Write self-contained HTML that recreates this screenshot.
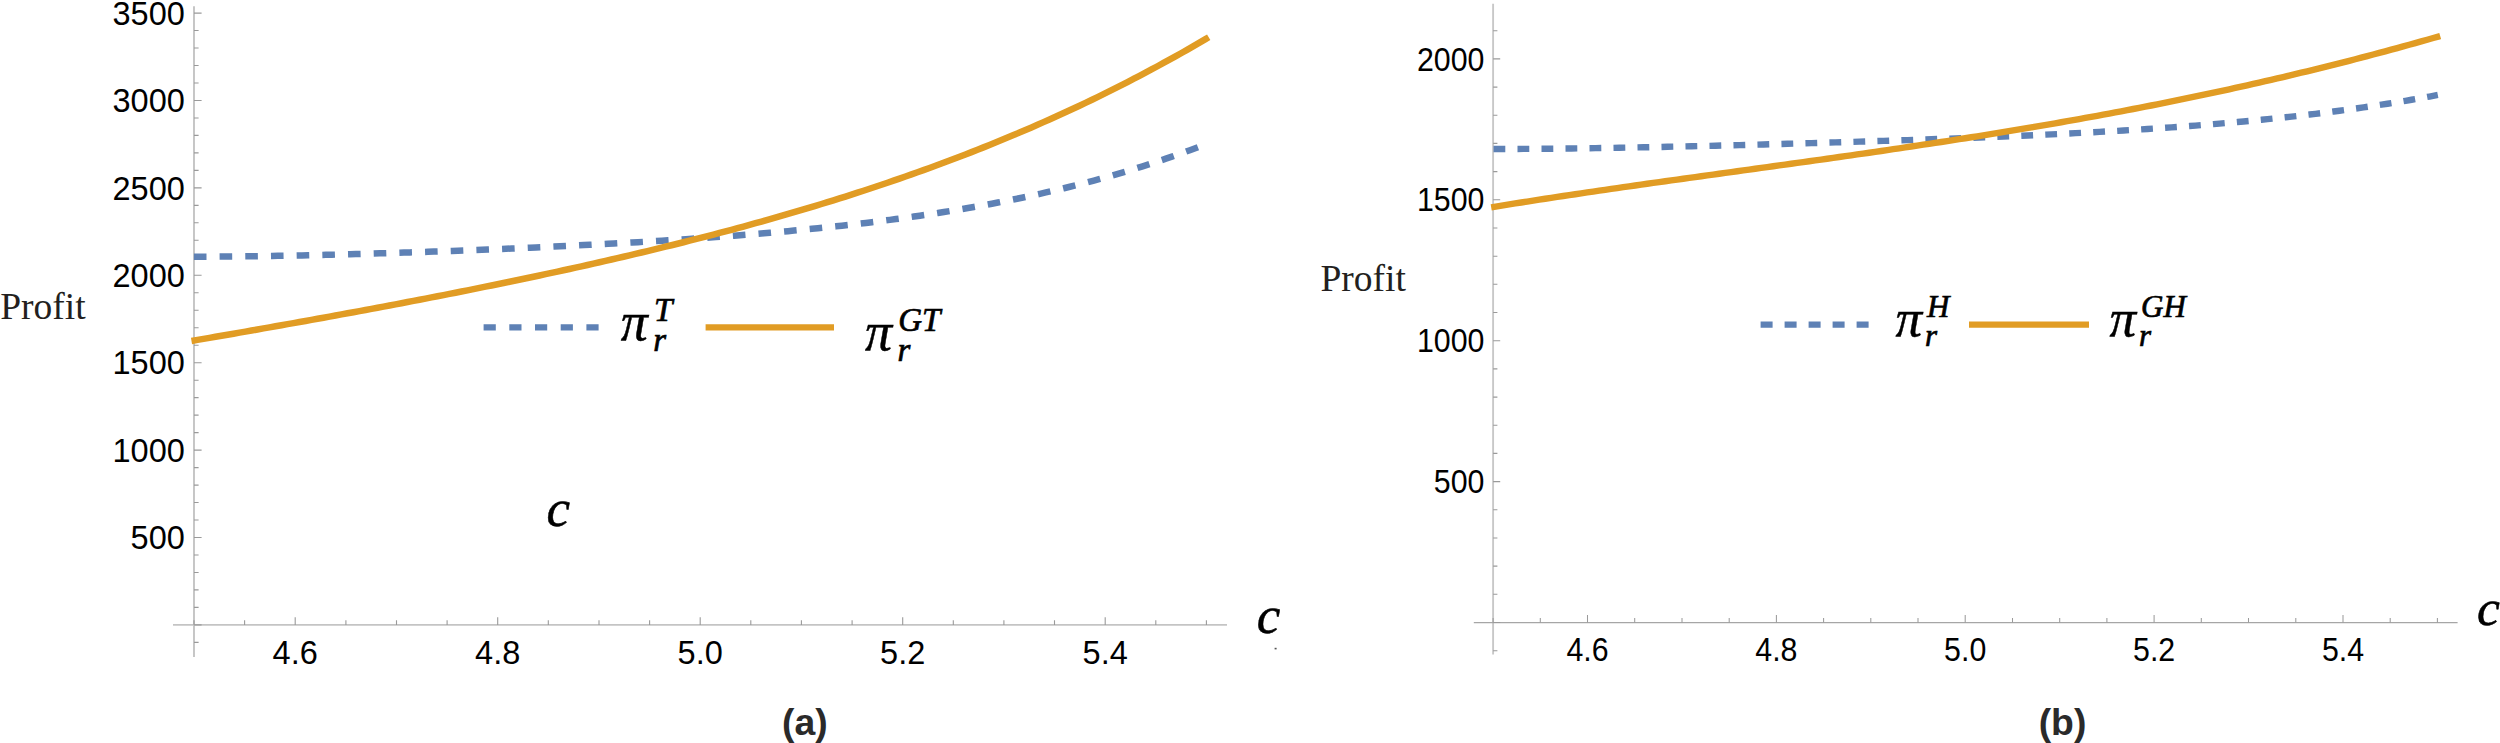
<!DOCTYPE html>
<html lang="en"><head><meta charset="utf-8"><title>Profit vs c</title>
<style>html,body{margin:0;padding:0;background:#fff}body{width:2500px;height:743px;overflow:hidden}svg{display:block}</style>
</head><body>
<svg width="2500" height="743" viewBox="0 0 2500 743">
<rect width="2500" height="743" fill="#fff"/>
<path d="M194.0 6.2V657.0" stroke="#c4c4c4" stroke-width="1.9" fill="none"/>
<path d="M173.0 624.9H1227.0" stroke="#c4c4c4" stroke-width="1.9" fill="none"/>
<path d="M194.0 624.9v-4.6M244.6 624.9v-4.6M295.2 624.9v-7.6M345.9 624.9v-4.6M396.5 624.9v-4.6M447.1 624.9v-4.6M497.7 624.9v-7.6M548.3 624.9v-4.6M599.0 624.9v-4.6M649.6 624.9v-4.6M700.2 624.9v-7.6M750.8 624.9v-4.6M801.4 624.9v-4.6M852.1 624.9v-4.6M902.7 624.9v-7.6M953.3 624.9v-4.6M1003.9 624.9v-4.6M1054.5 624.9v-4.6M1105.2 624.9v-7.6M1155.8 624.9v-4.6M1206.4 624.9v-4.6" stroke="#9a9a9a" stroke-width="1.10" fill="none"/>
<path d="M194.0 642.4h4.6M194.0 624.9h7.6M194.0 607.4h4.6M194.0 589.9h4.6M194.0 572.5h4.6M194.0 555.0h4.6M194.0 537.5h7.6M194.0 520.0h4.6M194.0 502.5h4.6M194.0 485.1h4.6M194.0 467.6h4.6M194.0 450.1h7.6M194.0 432.6h4.6M194.0 415.1h4.6M194.0 397.6h4.6M194.0 380.2h4.6M194.0 362.7h7.6M194.0 345.2h4.6M194.0 327.7h4.6M194.0 310.2h4.6M194.0 292.8h4.6M194.0 275.3h7.6M194.0 257.8h4.6M194.0 240.3h4.6M194.0 222.8h4.6M194.0 205.4h4.6M194.0 187.9h7.6M194.0 170.4h4.6M194.0 152.9h4.6M194.0 135.4h4.6M194.0 118.0h4.6M194.0 100.5h7.6M194.0 83.0h4.6M194.0 65.5h4.6M194.0 48.0h4.6M194.0 30.5h4.6M194.0 13.1h7.6" stroke="#9a9a9a" stroke-width="1.1" fill="none"/>
<g font-family="Liberation Sans, Arial, sans-serif" font-size="32.5" fill="#000">
<g text-anchor="end">
<text x="184.8" y="549.1">500</text>
<text x="184.8" y="461.7">1000</text>
<text x="184.8" y="374.3">1500</text>
<text x="184.8" y="286.9">2000</text>
<text x="184.8" y="199.5">2500</text>
<text x="184.8" y="112.1">3000</text>
<text x="184.8" y="24.7">3500</text>
</g><g text-anchor="middle">
<text x="295.2" y="663.7">4.6</text>
<text x="497.7" y="663.7">4.8</text>
<text x="700.2" y="663.7">5.0</text>
<text x="902.7" y="663.7">5.2</text>
<text x="1105.2" y="663.7">5.4</text>
</g></g>
<path d="M1493.1 3.8V654.5" stroke="#c8c8c8" stroke-width="1.9" fill="none"/>
<path d="M1473.8 622.5H2457.6" stroke="#a6a6a6" stroke-width="1.25" fill="none"/>
<path d="M1493.1 622.5v-4.6M1540.3 622.5v-4.6M1587.5 622.5v-7.6M1634.7 622.5v-4.6M1682.0 622.5v-4.6M1729.2 622.5v-4.6M1776.4 622.5v-7.6M1823.6 622.5v-4.6M1870.8 622.5v-4.6M1918.0 622.5v-4.6M1965.2 622.5v-7.6M2012.5 622.5v-4.6M2059.7 622.5v-4.6M2106.9 622.5v-4.6M2154.1 622.5v-7.6M2201.3 622.5v-4.6M2248.5 622.5v-4.6M2295.8 622.5v-4.6M2343.0 622.5v-7.6M2390.2 622.5v-4.6M2437.4 622.5v-4.6" stroke="#9a9a9a" stroke-width="1.03" fill="none"/>
<path d="M1493.1 650.7h4.3M1493.1 622.5h7.1M1493.1 594.3h4.3M1493.1 566.1h4.3M1493.1 538.0h4.3M1493.1 509.8h4.3M1493.1 481.6h7.1M1493.1 453.4h4.3M1493.1 425.2h4.3M1493.1 397.1h4.3M1493.1 368.9h4.3M1493.1 340.7h7.1M1493.1 312.5h4.3M1493.1 284.3h4.3M1493.1 256.2h4.3M1493.1 228.0h4.3M1493.1 199.8h7.1M1493.1 171.6h4.3M1493.1 143.4h4.3M1493.1 115.3h4.3M1493.1 87.1h4.3M1493.1 58.9h7.1M1493.1 30.7h4.3" stroke="#9a9a9a" stroke-width="1.1" fill="none"/>
<g font-family="Liberation Sans, Arial, sans-serif" font-size="32.5" fill="#000">
<g text-anchor="end">
<text transform="translate(1484.4 493.2) scale(0.9334 1)">500</text>
<text transform="translate(1484.4 352.3) scale(0.9334 1)">1000</text>
<text transform="translate(1484.4 211.4) scale(0.9334 1)">1500</text>
<text transform="translate(1484.4 70.5) scale(0.9334 1)">2000</text>
</g><g text-anchor="middle">
<text transform="translate(1587.5 661.1) scale(0.9334 1)">4.6</text>
<text transform="translate(1776.4 661.1) scale(0.9334 1)">4.8</text>
<text transform="translate(1965.2 661.1) scale(0.9334 1)">5.0</text>
<text transform="translate(2154.1 661.1) scale(0.9334 1)">5.2</text>
<text transform="translate(2343.0 661.1) scale(0.9334 1)">5.4</text>
</g></g>
<g fill="none" stroke-linejoin="round">
<path d="M193.9 256.66 L199.9 256.65 L205.9 256.63 L211.9 256.61 L217.9 256.57 L223.9 256.53 L229.9 256.48 L235.9 256.43 L241.9 256.36 L247.9 256.29 L253.9 256.22 L259.9 256.13 L265.9 256.04 L271.9 255.95 L277.9 255.85 L283.9 255.74 L289.9 255.63 L295.9 255.51 L301.9 255.39 L307.9 255.26 L313.9 255.13 L319.9 254.99 L325.9 254.85 L331.9 254.70 L337.9 254.55 L343.9 254.39 L349.9 254.23 L355.9 254.06 L361.9 253.90 L367.9 253.72 L373.9 253.55 L379.9 253.36 L385.9 253.18 L391.9 252.99 L397.9 252.80 L403.9 252.60 L409.9 252.40 L415.9 252.20 L421.9 252.00 L427.9 251.79 L433.9 251.57 L439.9 251.36 L445.9 251.14 L451.9 250.91 L457.9 250.69 L463.9 250.46 L469.9 250.22 L475.9 249.99 L481.9 249.75 L487.9 249.50 L493.9 249.26 L499.9 249.01 L505.9 248.76 L511.9 248.50 L517.9 248.24 L523.9 247.97 L529.9 247.71 L535.9 247.43 L541.9 247.16 L547.9 246.88 L553.9 246.60 L559.9 246.31 L565.9 246.02 L571.9 245.73 L577.9 245.43 L583.9 245.12 L589.9 244.82 L595.9 244.50 L601.9 244.19 L607.9 243.86 L613.9 243.54 L619.9 243.20 L625.9 242.87 L631.9 242.52 L637.9 242.18 L643.9 241.82 L649.9 241.46 L655.9 241.10 L661.9 240.73 L667.9 240.35 L673.9 239.96 L679.9 239.57 L685.9 239.18 L691.9 238.77 L697.9 238.36 L703.9 237.94 L709.9 237.51 L715.9 237.08 L721.9 236.63 L727.9 236.18 L733.9 235.72 L739.9 235.25 L745.9 234.77 L751.9 234.29 L757.9 233.79 L763.9 233.28 L769.9 232.77 L775.9 232.24 L781.9 231.70 L787.9 231.15 L793.9 230.59 L799.9 230.02 L805.9 229.44 L811.9 228.84 L817.9 228.24 L823.9 227.62 L829.9 226.98 L835.9 226.34 L841.9 225.68 L847.9 225.00 L853.9 224.32 L859.9 223.61 L865.9 222.90 L871.9 222.16 L877.9 221.41 L883.9 220.65 L889.9 219.87 L895.9 219.07 L901.9 218.25 L907.9 217.42 L913.9 216.57 L919.9 215.70 L925.9 214.81 L931.9 213.91 L937.9 212.98 L943.9 212.03 L949.9 211.07 L955.9 210.08 L961.9 209.07 L967.9 208.04 L973.9 206.98 L979.9 205.91 L985.9 204.81 L991.9 203.69 L997.9 202.54 L1003.9 201.37 L1009.9 200.18 L1015.9 198.96 L1021.9 197.71 L1027.9 196.44 L1033.9 195.14 L1039.9 193.81 L1045.9 192.45 L1051.9 191.07 L1057.9 189.66 L1063.9 188.22 L1069.9 186.75 L1075.9 185.24 L1081.9 183.71 L1087.9 182.15 L1093.9 180.55 L1099.9 178.92 L1105.9 177.26 L1111.9 175.56 L1117.9 173.83 L1123.9 172.07 L1129.9 170.27 L1135.9 168.43 L1141.9 166.56 L1147.9 164.65 L1153.9 162.70 L1159.9 160.71 L1165.9 158.69 L1171.9 156.62 L1177.9 154.52 L1183.9 152.37 L1189.9 150.18 L1195.9 147.95 L1201.9 145.68 L1206.3 143.99" stroke="#5e81b5" stroke-width="6.5" stroke-dasharray="12.6 13.09"/>
<path d="M191.5 340.93 L197.5 339.90 L203.5 338.87 L209.5 337.84 L215.5 336.80 L221.5 335.76 L227.5 334.72 L233.5 333.68 L239.5 332.63 L245.5 331.59 L251.5 330.53 L257.5 329.48 L263.5 328.42 L269.5 327.36 L275.5 326.30 L281.5 325.23 L287.5 324.17 L293.5 323.09 L299.5 322.02 L305.5 320.94 L311.5 319.86 L317.5 318.77 L323.5 317.69 L329.5 316.59 L335.5 315.50 L341.5 314.40 L347.5 313.30 L353.5 312.19 L359.5 311.08 L365.5 309.96 L371.5 308.85 L377.5 307.72 L383.5 306.60 L389.5 305.47 L395.5 304.33 L401.5 303.19 L407.5 302.05 L413.5 300.90 L419.5 299.74 L425.5 298.58 L431.5 297.42 L437.5 296.25 L443.5 295.07 L449.5 293.89 L455.5 292.71 L461.5 291.52 L467.5 290.32 L473.5 289.12 L479.5 287.91 L485.5 286.69 L491.5 285.47 L497.5 284.25 L503.5 283.01 L509.5 281.77 L515.5 280.53 L521.5 279.27 L527.5 278.01 L533.5 276.74 L539.5 275.47 L545.5 274.18 L551.5 272.89 L557.5 271.59 L563.5 270.29 L569.5 268.97 L575.5 267.65 L581.5 266.32 L587.5 264.98 L593.5 263.63 L599.5 262.27 L605.5 260.91 L611.5 259.53 L617.5 258.14 L623.5 256.75 L629.5 255.34 L635.5 253.93 L641.5 252.50 L647.5 251.07 L653.5 249.62 L659.5 248.17 L665.5 246.70 L671.5 245.22 L677.5 243.73 L683.5 242.23 L689.5 240.71 L695.5 239.19 L701.5 237.65 L707.5 236.10 L713.5 234.54 L719.5 232.96 L725.5 231.37 L731.5 229.77 L737.5 228.16 L743.5 226.53 L749.5 224.89 L755.5 223.23 L761.5 221.56 L767.5 219.87 L773.5 218.17 L779.5 216.46 L785.5 214.73 L791.5 212.98 L797.5 211.22 L803.5 209.44 L809.5 207.65 L815.5 205.84 L821.5 204.01 L827.5 202.17 L833.5 200.30 L839.5 198.43 L845.5 196.53 L851.5 194.61 L857.5 192.68 L863.5 190.73 L869.5 188.76 L875.5 186.77 L881.5 184.76 L887.5 182.73 L893.5 180.68 L899.5 178.61 L905.5 176.52 L911.5 174.41 L917.5 172.28 L923.5 170.13 L929.5 167.96 L935.5 165.76 L941.5 163.54 L947.5 161.30 L953.5 159.04 L959.5 156.75 L965.5 154.44 L971.5 152.11 L977.5 149.75 L983.5 147.37 L989.5 144.96 L995.5 142.53 L1001.5 140.08 L1007.5 137.59 L1013.5 135.08 L1019.5 132.55 L1025.5 129.99 L1031.5 127.40 L1037.5 124.79 L1043.5 122.14 L1049.5 119.47 L1055.5 116.77 L1061.5 114.05 L1067.5 111.29 L1073.5 108.50 L1079.5 105.69 L1085.5 102.84 L1091.5 99.97 L1097.5 97.06 L1103.5 94.12 L1109.5 91.16 L1115.5 88.16 L1121.5 85.12 L1127.5 82.06 L1133.5 78.96 L1139.5 75.83 L1145.5 72.67 L1151.5 69.47 L1157.5 66.24 L1163.5 62.97 L1169.5 59.67 L1175.5 56.33 L1181.5 52.96 L1187.5 49.55 L1193.5 46.10 L1199.5 42.62 L1205.5 39.10 L1208.7 37.21" stroke="#e19c24" stroke-width="6.5"/>
<path d="M1493.5 149.00 L1499.5 149.00 L1505.5 148.99 L1511.5 148.97 L1517.5 148.95 L1523.5 148.92 L1529.5 148.88 L1535.5 148.84 L1541.5 148.79 L1547.5 148.74 L1553.5 148.68 L1559.5 148.62 L1565.5 148.55 L1571.5 148.48 L1577.5 148.41 L1583.5 148.32 L1589.5 148.24 L1595.5 148.15 L1601.5 148.06 L1607.5 147.96 L1613.5 147.86 L1619.5 147.75 L1625.5 147.65 L1631.5 147.54 L1637.5 147.42 L1643.5 147.30 L1649.5 147.18 L1655.5 147.06 L1661.5 146.93 L1667.5 146.80 L1673.5 146.67 L1679.5 146.54 L1685.5 146.40 L1691.5 146.26 L1697.5 146.12 L1703.5 145.98 L1709.5 145.84 L1715.5 145.69 L1721.5 145.54 L1727.5 145.39 L1733.5 145.24 L1739.5 145.08 L1745.5 144.92 L1751.5 144.77 L1757.5 144.61 L1763.5 144.44 L1769.5 144.28 L1775.5 144.12 L1781.5 143.95 L1787.5 143.78 L1793.5 143.61 L1799.5 143.44 L1805.5 143.27 L1811.5 143.09 L1817.5 142.92 L1823.5 142.74 L1829.5 142.56 L1835.5 142.38 L1841.5 142.20 L1847.5 142.02 L1853.5 141.83 L1859.5 141.64 L1865.5 141.45 L1871.5 141.26 L1877.5 141.07 L1883.5 140.88 L1889.5 140.68 L1895.5 140.48 L1901.5 140.28 L1907.5 140.08 L1913.5 139.87 L1919.5 139.67 L1925.5 139.46 L1931.5 139.25 L1937.5 139.03 L1943.5 138.82 L1949.5 138.60 L1955.5 138.37 L1961.5 138.15 L1967.5 137.92 L1973.5 137.69 L1979.5 137.46 L1985.5 137.22 L1991.5 136.98 L1997.5 136.73 L2003.5 136.48 L2009.5 136.23 L2015.5 135.97 L2021.5 135.71 L2027.5 135.45 L2033.5 135.18 L2039.5 134.91 L2045.5 134.63 L2051.5 134.34 L2057.5 134.06 L2063.5 133.76 L2069.5 133.46 L2075.5 133.16 L2081.5 132.85 L2087.5 132.53 L2093.5 132.21 L2099.5 131.88 L2105.5 131.54 L2111.5 131.20 L2117.5 130.85 L2123.5 130.50 L2129.5 130.13 L2135.5 129.76 L2141.5 129.38 L2147.5 128.99 L2153.5 128.60 L2159.5 128.19 L2165.5 127.78 L2171.5 127.36 L2177.5 126.93 L2183.5 126.49 L2189.5 126.03 L2195.5 125.57 L2201.5 125.10 L2207.5 124.62 L2213.5 124.13 L2219.5 123.63 L2225.5 123.11 L2231.5 122.58 L2237.5 122.04 L2243.5 121.49 L2249.5 120.93 L2255.5 120.35 L2261.5 119.76 L2267.5 119.16 L2273.5 118.54 L2279.5 117.91 L2285.5 117.27 L2291.5 116.61 L2297.5 115.93 L2303.5 115.24 L2309.5 114.54 L2315.5 113.81 L2321.5 113.07 L2327.5 112.32 L2333.5 111.54 L2339.5 110.75 L2345.5 109.95 L2351.5 109.12 L2357.5 108.27 L2363.5 107.41 L2369.5 106.52 L2375.5 105.62 L2381.5 104.70 L2387.5 103.75 L2393.5 102.79 L2399.5 101.80 L2405.5 100.79 L2411.5 99.76 L2417.5 98.71 L2423.5 97.63 L2429.5 96.53 L2435.5 95.41 L2437.8 94.97" stroke="#5e81b5" stroke-width="6.4" stroke-dasharray="11.8 12.2"/>
<path d="M1491.2 207.33 L1497.2 206.34 L1503.2 205.37 L1509.2 204.41 L1515.2 203.45 L1521.2 202.49 L1527.2 201.55 L1533.2 200.61 L1539.2 199.68 L1545.2 198.76 L1551.2 197.84 L1557.2 196.92 L1563.2 196.01 L1569.2 195.11 L1575.2 194.22 L1581.2 193.32 L1587.2 192.44 L1593.2 191.55 L1599.2 190.68 L1605.2 189.80 L1611.2 188.93 L1617.2 188.07 L1623.2 187.20 L1629.2 186.35 L1635.2 185.49 L1641.2 184.64 L1647.2 183.79 L1653.2 182.94 L1659.2 182.10 L1665.2 181.25 L1671.2 180.41 L1677.2 179.57 L1683.2 178.74 L1689.2 177.90 L1695.2 177.07 L1701.2 176.24 L1707.2 175.41 L1713.2 174.58 L1719.2 173.75 L1725.2 172.92 L1731.2 172.09 L1737.2 171.26 L1743.2 170.43 L1749.2 169.60 L1755.2 168.77 L1761.2 167.94 L1767.2 167.11 L1773.2 166.28 L1779.2 165.44 L1785.2 164.61 L1791.2 163.77 L1797.2 162.94 L1803.2 162.10 L1809.2 161.26 L1815.2 160.41 L1821.2 159.57 L1827.2 158.72 L1833.2 157.87 L1839.2 157.02 L1845.2 156.16 L1851.2 155.30 L1857.2 154.44 L1863.2 153.58 L1869.2 152.71 L1875.2 151.84 L1881.2 150.96 L1887.2 150.08 L1893.2 149.20 L1899.2 148.31 L1905.2 147.42 L1911.2 146.52 L1917.2 145.62 L1923.2 144.71 L1929.2 143.80 L1935.2 142.89 L1941.2 141.97 L1947.2 141.04 L1953.2 140.11 L1959.2 139.17 L1965.2 138.23 L1971.2 137.28 L1977.2 136.32 L1983.2 135.36 L1989.2 134.40 L1995.2 133.42 L2001.2 132.44 L2007.2 131.46 L2013.2 130.46 L2019.2 129.46 L2025.2 128.45 L2031.2 127.44 L2037.2 126.42 L2043.2 125.39 L2049.2 124.35 L2055.2 123.31 L2061.2 122.26 L2067.2 121.20 L2073.2 120.13 L2079.2 119.06 L2085.2 117.97 L2091.2 116.88 L2097.2 115.78 L2103.2 114.67 L2109.2 113.56 L2115.2 112.43 L2121.2 111.30 L2127.2 110.15 L2133.2 109.00 L2139.2 107.84 L2145.2 106.67 L2151.2 105.49 L2157.2 104.30 L2163.2 103.10 L2169.2 101.89 L2175.2 100.67 L2181.2 99.45 L2187.2 98.21 L2193.2 96.96 L2199.2 95.71 L2205.2 94.44 L2211.2 93.16 L2217.2 91.87 L2223.2 90.57 L2229.2 89.27 L2235.2 87.95 L2241.2 86.62 L2247.2 85.28 L2253.2 83.93 L2259.2 82.56 L2265.2 81.19 L2271.2 79.81 L2277.2 78.41 L2283.2 77.01 L2289.2 75.59 L2295.2 74.16 L2301.2 72.72 L2307.2 71.27 L2313.2 69.81 L2319.2 68.33 L2325.2 66.84 L2331.2 65.35 L2337.2 63.84 L2343.2 62.32 L2349.2 60.78 L2355.2 59.24 L2361.2 57.68 L2367.2 56.11 L2373.2 54.53 L2379.2 52.94 L2385.2 51.33 L2391.2 49.71 L2397.2 48.08 L2403.2 46.44 L2409.2 44.78 L2415.2 43.12 L2421.2 41.44 L2427.2 39.74 L2433.2 38.04 L2439.2 36.32 L2440.2 36.03" stroke="#e19c24" stroke-width="6.4"/>
<path d="M483.6 327.4H600" stroke="#5e81b5" stroke-width="6.2" stroke-dasharray="12.2 13.5"/>
<path d="M705.6 327.4H834" stroke="#e19c24" stroke-width="6.2"/>
<path d="M1760.6 324.6H1870" stroke="#5e81b5" stroke-width="6.2" stroke-dasharray="12 12"/>
<path d="M1969 324.6H2089" stroke="#e19c24" stroke-width="6.2"/>
</g>
<g font-family="Liberation Serif, Times New Roman, serif" font-size="37.5" fill="#231f20">
<text x="0.2" y="318.7">Profit</text><text x="1320.4" y="290.8">Profit</text></g>
<g font-family="Liberation Serif, Times New Roman, serif" font-style="italic" fill="#000" stroke="#000" stroke-width="0.55"><text x="620.7" y="340" font-size="54" stroke-width="0.45">π</text>
<text x="653.2" y="351.0" font-size="33" stroke-width="0.7">r</text>
<text x="653.9" y="321.4" font-size="33" stroke-width="0.7">T</text></g>
<g font-family="Liberation Serif, Times New Roman, serif" font-style="italic" fill="#000" stroke="#000" stroke-width="0.55"><text x="865" y="350" font-size="54" stroke-width="0.45">π</text>
<text x="897.5" y="361.0" font-size="33" stroke-width="0.7">r</text>
<text x="898.2" y="331.4" font-size="33" stroke-width="0.7">GT</text></g>
<g font-family="Liberation Serif, Times New Roman, serif" font-style="italic" fill="#000" stroke="#000" stroke-width="0.55"><text x="1895.5" y="335.8" font-size="53" stroke-width="0.45">π</text>
<text x="1925.0" y="346.3" font-size="31" stroke-width="0.7">r</text>
<text x="1927.0" y="317.2" font-size="31" stroke-width="0.7">H</text></g>
<g font-family="Liberation Serif, Times New Roman, serif" font-style="italic" fill="#000" stroke="#000" stroke-width="0.55"><text x="2109.5" y="335.8" font-size="53" stroke-width="0.45">π</text>
<text x="2139.0" y="346.3" font-size="31" stroke-width="0.7">r</text>
<text x="2141.0" y="317.2" font-size="31" stroke-width="0.7">GH</text></g>
<g font-family="Liberation Serif, Times New Roman, serif" font-style="italic" fill="#000" stroke="#000" stroke-width="0.55" font-size="53"><text x="546.5" y="526.2">c</text><text x="1256.7" y="633.4">c</text><text x="2477" y="624.6" font-size="51.5">c</text></g>
<rect x="1274.6" y="647.8" width="2" height="1.6" fill="#555"/>
<g font-family="Liberation Sans, Arial, sans-serif" font-weight="bold" font-size="37.3" fill="#2a2a2a" text-anchor="middle">
<text x="804.8" y="734.7">(a)</text><text x="2062.5" y="734.7">(b)</text></g>
</svg></body></html>
